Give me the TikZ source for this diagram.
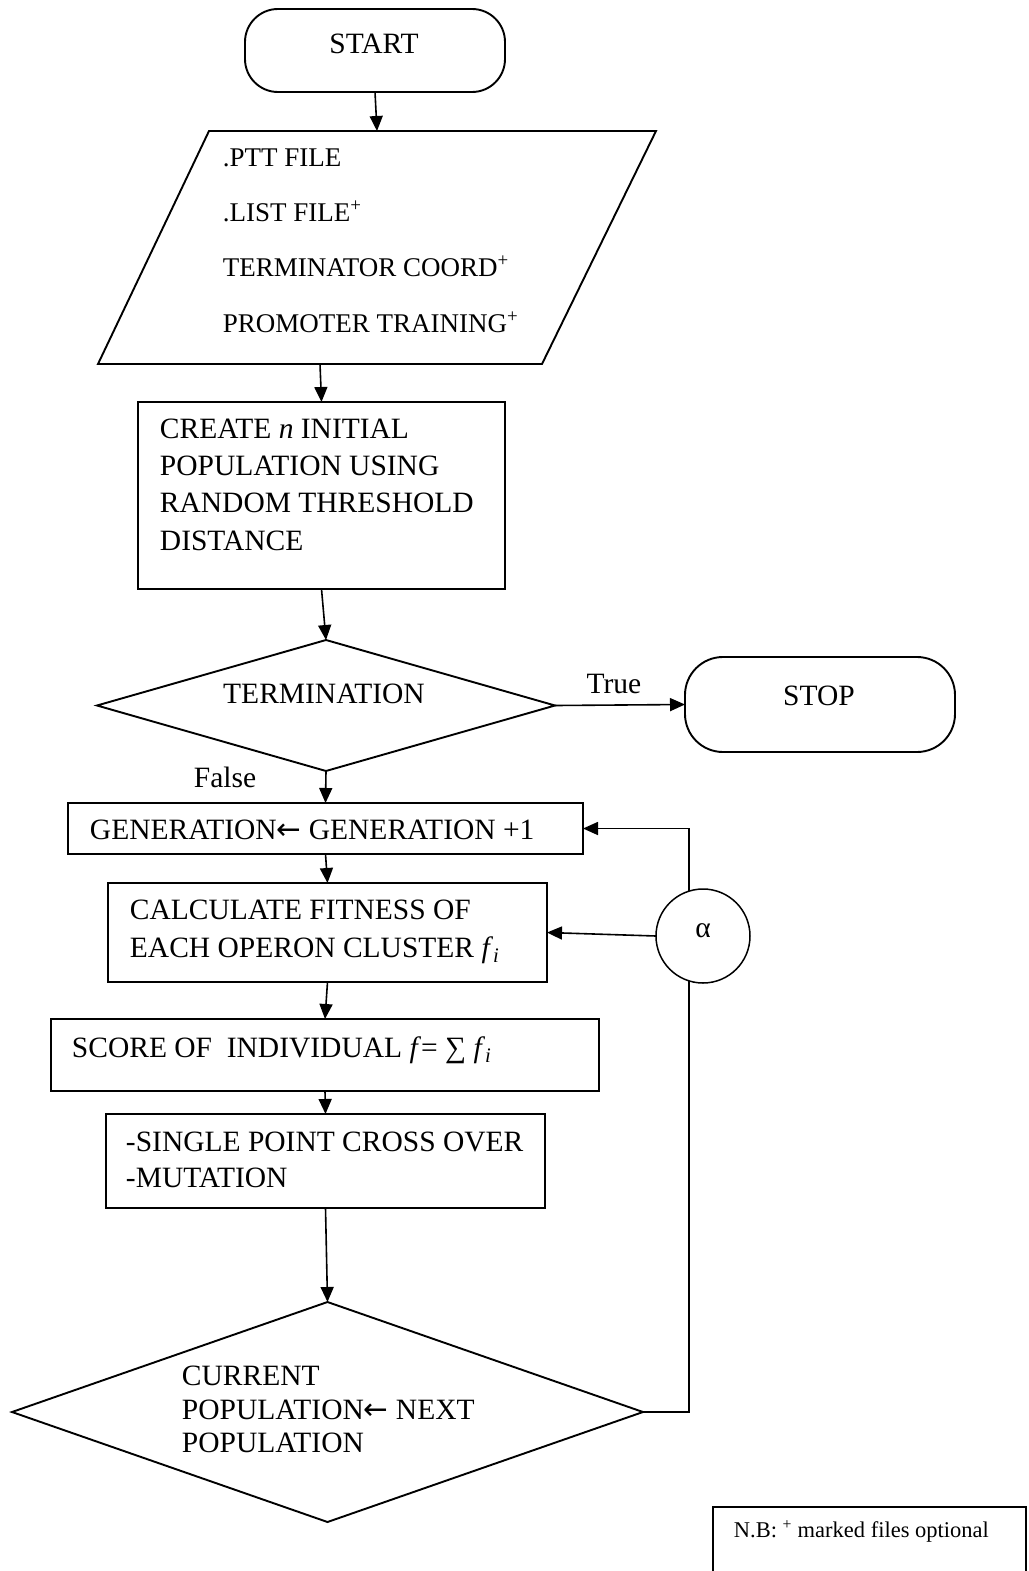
\documentclass[tikz,border=0pt]{standalone}
\usepackage{fontspec}
\setmainfont{Liberation Serif}
\newfontfamily\arrowfont{DejaVu Sans}
\newcommand{\larr}{{\arrowfont ←}}
\usetikzlibrary{arrows.meta,shapes.geometric}
\begin{document}
\begin{tikzpicture}[x=1pt,y=-1pt,line width=1.9pt,
  box/.style={draw,rectangle,inner sep=0pt,outer sep=0pt},
  term/.style={box,rounded corners=#1},
  dia/.style={draw,diamond,inner sep=0pt,outer sep=0pt},
  arr/.style={-{Triangle[length=15pt,width=13pt]},line width=1.6pt},
  big/.style={font=\fontsize{29.5pt}{36pt}\selectfont,inner sep=0pt},
  mid/.style={font=\fontsize{27pt}{33pt}\selectfont,inner sep=0pt},
  small/.style={font=\fontsize{22.5pt}{27pt}\selectfont,inner sep=0pt},
  ln/.style={anchor=base west}]
\useasboundingbox (0,0) rectangle (1028,1571);

% shapes
\node[term=33pt,minimum width=260pt,minimum height=83pt] (start) at (375,50.5) {};
\coordinate (pTL) at (209,131);
\coordinate (pTR) at (656,131);
\coordinate (pBR) at (542,364);
\coordinate (pBL) at (98,364);
\draw (pTL) -- (pTR) -- (pBR) -- (pBL) -- cycle;
\coordinate (inTop) at (377,131);
\coordinate (inBot) at (320,364);
\node[box,minimum width=367pt,minimum height=187pt] (create) at (321.5,495.5) {};
\node[dia,minimum width=458pt,minimum height=131pt] (termin) at (326,705.5) {};
\node[term=38pt,minimum width=270pt,minimum height=95pt] (stop) at (820,704.5) {};
\node[box,minimum width=515pt,minimum height=51pt] (gen) at (325.5,828.5) {};
\node[box,minimum width=439pt,minimum height=99pt] (calc) at (327.5,932.5) {};
\node[box,minimum width=548pt,minimum height=72pt] (score) at (325,1055) {};
\node[box,minimum width=439pt,minimum height=94pt] (single) at (325.5,1161) {};
\node[dia,minimum width=631pt,minimum height=220pt] (cur) at (327.5,1412) {};
\node[box,minimum width=313pt,minimum height=83pt] (nb) at (869.5,1548.5) {};

% loop connector (behind the alpha circle)
\coordinate (loopB) at (689,1412);
\coordinate (loopT) at (689,828.5);
\draw[arr] (cur.east) -- (loopB) -- (loopT) -- (gen.east);
\node[draw,circle,fill=white,minimum size=94pt,inner sep=0pt,outer sep=0pt,line width=1.5pt] (alpha) at (703,936) {};

% connectors
\draw[arr] (start.south) -- (inTop);
\draw[arr] (inBot) -- (create.north);
\draw[arr] (create.south) -- (termin.north);
\draw[arr] (termin.east) -- (stop.west);
\draw[arr] (termin.south) -- (gen.north);
\draw[arr] (gen.south) -- (calc.north);
\draw[arr] (calc.south) -- (score.north);
\draw[arr] (score.south) -- (single.north);
\draw[arr] (single.south) -- (cur.north);
\draw[arr] (alpha.west) -- (calc.east);

% texts
\node[big,anchor=base] (tstart) at (374,54) {START};
\node[mid,ln] (p1) at (222,166) {.PTT FILE};
\node[mid,ln] (p2) at (222,221) {.LIST FILE\textsuperscript{+}};
\node[mid,ln] (p3) at (222,276) {TERMINATOR COORD\textsuperscript{+}};
\node[mid,ln] (p4) at (222,332) {PROMOTER TRAINING\textsuperscript{+}};
\node[big,ln] (c1) at (159,438) {CREATE \textit{n} INITIAL};
\node[big,ln] (c2) at (159,475) {POPULATION USING};
\node[big,ln] (c3) at (159,512.5) {RANDOM THRESHOLD};
\node[big,ln] (c4) at (159,550) {DISTANCE};
\node[big,anchor=base] (tterm) at (324,703) {TERMINATION};
\node[big,anchor=base] (ttrue) at (614,693) {True};
\node[big,anchor=base] (tfalse) at (225,787) {False};
\node[big,anchor=base] (tstop) at (819,705) {STOP};
\node[big,ln] (tgen) at (89,839) {GENERATION\larr{} GENERATION +1};
\node[big,ln] (k1) at (129,919) {CALCULATE FITNESS OF};
\node[big,ln] (k2) at (129,957) {EACH OPERON CLUSTER \textit{f}\textsubscript{\textit{i}}};
\node[big,anchor=base] (talpha) at (703,937) {α};
\node[big,ln] (tscore) at (71,1057) {SCORE OF\ \ INDIVIDUAL \textit{f}= ∑ \textit{f}\textsubscript{\textit{i}}};
\node[big,ln] (s1) at (125,1151) {-SINGLE POINT CROSS OVER};
\node[big,ln] (s2) at (125,1187) {-MUTATION};
\node[big,ln] (u1) at (181,1385) {CURRENT};
\node[big,ln] (u2) at (181,1419) {POPULATION\larr{} NEXT};
\node[big,ln] (u3) at (181,1452) {POPULATION};
\node[small,ln] (tnb) at (733,1537) {N.B: \textsuperscript{+} marked files optional};
\end{tikzpicture}
\end{document}
